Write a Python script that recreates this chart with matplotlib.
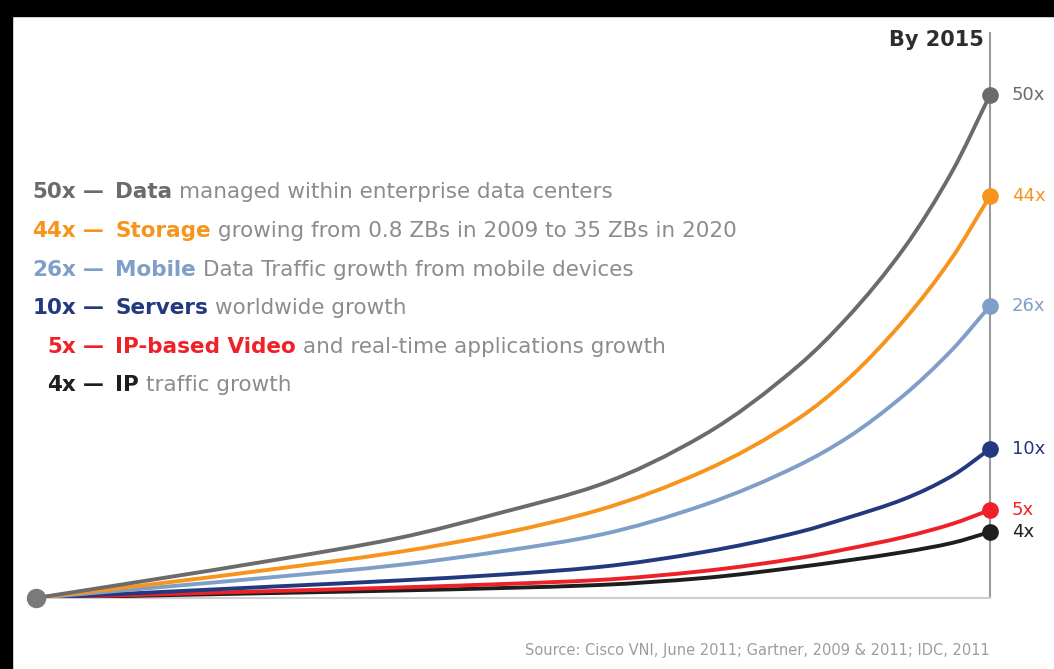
import matplotlib
matplotlib.use("Agg")
import matplotlib.pyplot as plt
from matplotlib.patches import Rectangle, PathPatch
from matplotlib.path import Path

# growth curves, time as a fraction of 2010 -> 2015, height
t = [0, 0.12, 0.25, 0.38, 0.49, 0.59, 0.70, 0.80, 0.85, 0.91, 0.96, 1.0]
data_c = [0, 1.8, 3.8, 6.0, 8.6, 11.3, 16.3, 23.3, 28.0, 35.0, 42.6, 50.3]
storage = [0, 1.35, 2.9, 4.6, 6.5, 8.8, 12.7, 18.0, 21.8, 27.8, 34.0, 40.2]
mobile = [0, 1.0, 2.1, 3.3, 4.7, 6.3, 9.3, 13.3, 16.0, 20.3, 24.8, 29.2]
servers = [0, 0.55, 1.15, 1.75, 2.35, 3.1, 4.6, 6.6, 8.0, 9.9, 12.2, 14.9]
video = [0, 0.35, 0.7, 1.05, 1.4, 1.8, 2.7, 4.0, 4.9, 6.1, 7.4, 8.8]
ip = [0, 0.25, 0.5, 0.75, 1.0, 1.3, 2.0, 3.1, 3.75, 4.6, 5.5, 6.6]

series = [data_c, storage, mobile, servers, video, ip]
end_labels = ["50x", "44x", "26x", "10x", "5x", "4x"]
names = ["Data", "Storage", "Mobile", "Servers", "IP-based Video", "IP"]
descs = ["managed within enterprise data centers",
         "growing from 0.8 ZBs in 2009 to 35 ZBs in 2020",
         "Data Traffic growth from mobile devices",
         "worldwide growth",
         "and real-time applications growth",
         "traffic growth"]
colors = ["#6b6b6b", "#f7941d", "#7f9fc8", "#22397f", "#ee2129", "#1e1e1e"]
source = "Source: Cisco VNI, June 2011; Gartner, 2009 & 2011; IDC, 2011"

W, H = 1054, 669
fig = plt.figure(figsize=(W / 100, H / 100), dpi=100)
fig.patch.set_facecolor("white")

# black frame on top and left like the screenshot
fig.patches.append(Rectangle((0, 1 - 16 / H), 1, 16 / H, transform=fig.transFigure,
                             color="black", zorder=0))
fig.patches.append(Rectangle((0, 0), 12 / W, 1, transform=fig.transFigure,
                             color="black", zorder=0))

def fx(px):
    return px / W

def fy(py):
    return 1 - py / H

def smooth_path(xs, ys):
    # bezier segments through the read points, pchip style tangents (no overshoot)
    n = len(xs)
    h = [xs[i + 1] - xs[i] for i in range(n - 1)]
    d = [(ys[i + 1] - ys[i]) / h[i] for i in range(n - 1)]
    m = [d[0]]
    for i in range(1, n - 1):
        if d[i - 1] * d[i] <= 0:
            m.append(0.0)
        else:
            w1 = 2 * h[i] + h[i - 1]
            w2 = h[i] + 2 * h[i - 1]
            m.append((w1 + w2) / (w1 / d[i - 1] + w2 / d[i]))
    m.append(d[-1])
    verts = [(xs[0], ys[0])]
    codes = [Path.MOVETO]
    for i in range(n - 1):
        verts += [(xs[i] + h[i] / 3, ys[i] + m[i] * h[i] / 3),
                  (xs[i + 1] - h[i] / 3, ys[i + 1] - m[i + 1] * h[i] / 3),
                  (xs[i + 1], ys[i + 1])]
        codes += [Path.CURVE4] * 3
    return Path(verts, codes)

ax = fig.add_axes([fx(36), fy(598), fx(990) - fx(36), fy(33) - fy(598)])
ax.set_xlim(0, 1)
ax.set_ylim(0, 56.5)
ax.set_facecolor("none")
for s in ["top", "left"]:
    ax.spines[s].set_visible(False)
ax.spines["right"].set_color("#9a9a9a")
ax.spines["right"].set_linewidth(1.5)
ax.spines["bottom"].set_color("#cfcfcf")
ax.spines["bottom"].set_linewidth(1.5)
ax.set_xticks([])
ax.set_yticks([])

for ys, c in zip(series[::-1], colors[::-1]):
    ax.add_patch(PathPatch(smooth_path(t, ys), facecolor="none", edgecolor=c,
                           lw=2.8, capstyle="round", zorder=3))
    ax.plot(t[-1], ys[-1], "o", color=c, ms=11, zorder=4, clip_on=False)
ax.plot(t[0], 0, "o", color="#7a7a7a", ms=13, zorder=5, clip_on=False)

# end labels
end_y = [95, 196, 306, 449, 510, 532]
for lab, c, yp in zip(end_labels, colors, end_y):
    fig.text(fx(1012), fy(yp), lab, color=c, fontsize=13, va="center", ha="left")

fig.text(fx(984), fy(40), "By 2015", color="#2d2d2d", fontsize=15, fontweight="bold",
         ha="right", va="center")

# legend rows: number, dash + bold name, grey description
renderer = fig.canvas.get_renderer()
row_base = [198, 237, 276, 314, 353, 391]
for lab, nm, d, c, yb in zip(end_labels, names, descs, colors, row_base):
    fig.text(fx(76), fy(yb), lab, color=c, fontsize=15.5, fontweight="bold",
             ha="right", va="baseline")
    fig.text(fx(83), fy(yb), "\u2014", color=c, fontsize=15, fontweight="bold",
             ha="left", va="baseline")
    tb = fig.text(fx(115), fy(yb), nm, color=c, fontsize=15.5, fontweight="bold",
                  ha="left", va="baseline")
    x1 = tb.get_window_extent(renderer).x1
    fig.text((x1 + 7) / W, fy(yb), d, color="#8c8c8c", fontsize=15.5,
             ha="left", va="baseline")

fig.text(fx(990), fy(650), source, color="#9d9d9d", fontsize=10.5, ha="right", va="center")

fig.savefig("out.png", dpi=100, facecolor="white")
